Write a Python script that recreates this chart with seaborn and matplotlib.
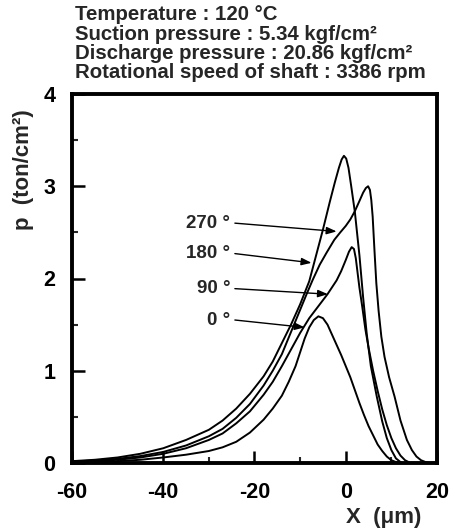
import numpy as np
import pandas as pd
import matplotlib
matplotlib.use("Agg")
import matplotlib.pyplot as plt
import seaborn as sns

# ---- data ----
x_0 = [-60, -55, -50, -45, -40, -35, -30, -27, -24, -21, -18, -16, -14, -12.5, -11, -10, -9, -8,
       -7, -6, -5, -4, -3, -2, -1, 0, 1, 2, 3, 4, 5, 6, 7, 8, 9, 10, 11, 12]
p_0 = [0.005, 0.01, 0.02, 0.035, 0.06, 0.09, 0.13, 0.17, 0.23, 0.33, 0.47, 0.59, 0.73, 0.88, 1.05, 1.20, 1.35, 1.47,
       1.55, 1.59, 1.57, 1.50, 1.39, 1.28, 1.17, 1.05, 0.93, 0.79, 0.65, 0.52, 0.40, 0.30, 0.20, 0.13, 0.07, 0.03, 0.01, 0.0]

x_90 = [-60, -55, -50, -45, -40, -35, -30, -27, -24, -21, -18, -16, -14, -12, -10, -8, -6, -4, -2, -1,
        0, 0.7, 1.3, 1.8, 2.2, 2.6, 3.0, 3.6, 4.3, 5, 6, 7, 8, 9, 10, 11, 12, 13, 14]
p_90 = [0.01, 0.02, 0.035, 0.06, 0.10, 0.16, 0.25, 0.32, 0.43, 0.56, 0.74, 0.88, 1.05, 1.23, 1.41, 1.57, 1.70, 1.83, 1.98, 2.08,
        2.20, 2.29, 2.34, 2.32, 2.22, 2.06, 1.90, 1.70, 1.45, 1.25, 1.00, 0.78, 0.58, 0.41, 0.27, 0.16, 0.08, 0.03, 0.005]

x_180 = [-60, -55, -50, -45, -40, -35, -30, -27, -24, -21, -18, -16, -14, -12, -10, -8, -6.5, -5, -3.5,
         -2.4, -1.5, -0.9, -0.4, 0.1, 0.6, 1.2, 2.0, 3.0, 3.8, 4.6, 5.5, 6.8, 8.0, 9.0, 10.0, 11.0, 12.0]
p_180 = [0.02, 0.035, 0.06, 0.10, 0.16, 0.25, 0.36, 0.46, 0.59, 0.75, 0.94, 1.10, 1.30, 1.50, 1.72, 1.97, 2.25, 2.53, 2.83,
         3.04, 3.20, 3.29, 3.33, 3.30, 3.20, 3.00, 2.72, 2.25, 1.80, 1.40, 1.05, 0.72, 0.45, 0.27, 0.14, 0.05, 0.01]

x_270 = [-60, -55, -50, -45, -40, -35, -30, -27, -24, -21, -18, -16, -14, -12, -10, -8.5, -7.2, -5.7,
         -4.2, -2.5, -1.2, 0, 1, 2, 3, 3.8, 4.4, 4.9, 5.3, 5.6, 5.9, 6.3, 6.7, 7.2, 7.8, 8.5, 9.5,
         10.7, 12, 13.4, 14.5, 15.5, 16.5, 17.5, 18.5]
p_270 = [0.015, 0.028, 0.045, 0.075, 0.12, 0.19, 0.29, 0.37, 0.49, 0.64, 0.84, 1.00, 1.18, 1.42, 1.66, 1.84, 1.99, 2.15,
         2.28, 2.42, 2.50, 2.57, 2.64, 2.73, 2.84, 2.93, 2.98, 3.00, 2.96, 2.85, 2.67, 2.30, 1.95, 1.65, 1.37, 1.15, 0.93,
         0.72, 0.46, 0.25, 0.14, 0.07, 0.03, 0.01, 0.0]

angle_labels = ["270 °", "180 °", "90 °", "0 °"]
label_y = [2.60, 2.27, 1.89, 1.55]
tip_x = [-2.0, -7.5, -3.9, -9.0]
tip_y = [2.51, 2.17, 1.83, 1.47]

header_lines = ["Temperature : 120 °C",
                "Suction pressure : 5.34 kgf/cm²",
                "Discharge pressure : 20.86 kgf/cm²",
                "Rotational speed of shaft : 3386 rpm"]

x_ticks = [-60, -40, -20, 0, 20]
y_ticks = [0, 1, 2, 3, 4]

# ---- build table ----
frames = []
for name, xs, ps in [("0", x_0, p_0), ("90", x_90, p_90), ("180", x_180, p_180), ("270", x_270, p_270)]:
    frames.append(pd.DataFrame({"x": xs, "p": ps, "angle": name}))
df = pd.concat(frames, ignore_index=True)

sns.set_theme(style="ticks")
plt.rcParams["font.family"] = ["Liberation Sans", "DejaVu Sans"]
plt.rcParams["font.weight"] = "bold"
plt.rcParams["axes.unicode_minus"] = False

fig = plt.figure(figsize=(4.56, 5.29), dpi=100)
ax = fig.add_axes([72/456, 1-463/529, (437-72)/456, (463-94)/529])

sns.lineplot(data=df, x="x", y="p", hue="angle", units="angle", estimator=None,
             palette={"0": "black", "90": "black", "180": "black", "270": "black"},
             linewidth=1.4, legend=False, sort=False, ax=ax)

ax.set_xlim(-60, 20)
ax.set_ylim(0, 4)
ax.set_xticks(x_ticks)
ax.set_yticks(y_ticks)
ax.set_xticks(np.arange(-50, 20, 20), minor=True)
ax.set_yticks(np.arange(0.5, 4, 1.0), minor=True)
ax.tick_params(axis="x", which="major", direction="in", length=9, width=1.8,
               labelsize=15.5, pad=14, colors="black")
ax.tick_params(axis="y", which="major", direction="in", length=9, width=1.8,
               labelsize=15.5, pad=12, colors="black")
ax.tick_params(axis="both", which="minor", direction="in", length=4.5, width=1.5)
for lab in ax.get_xticklabels() + ax.get_yticklabels():
    lab.set_fontweight("bold")
for s in ax.spines.values():
    s.set_linewidth(2.8)
    s.set_color("black")

ax.set_xlabel("X  (μm)", fontsize=16, fontweight="bold")
ax.xaxis.set_label_coords(0.855, -0.118)
ax.set_ylabel("p  (ton/cm²)", fontsize=16, fontweight="bold")
ax.yaxis.set_label_coords(-0.103, 0.795)

for lab, ly, tx, ty in zip(angle_labels, label_y, tip_x, tip_y):
    ax.text(-25.3, ly, lab, ha="right", va="center", fontsize=13.5, fontweight="bold")
    ax.annotate("", xy=(tx, ty), xytext=(-24.3, ly),
                arrowprops=dict(arrowstyle="-|>,head_length=0.6,head_width=0.22", color="black", lw=1.0,
                                mutation_scale=10, shrinkA=0, shrinkB=0))

for i, line in enumerate(header_lines):
    fig.text(75/456, 1 - (15 + i*19.2)/529, line, ha="left", va="center",
             fontsize=14.7, fontweight="bold")

fig.savefig("out.png", dpi=100, facecolor="white")
